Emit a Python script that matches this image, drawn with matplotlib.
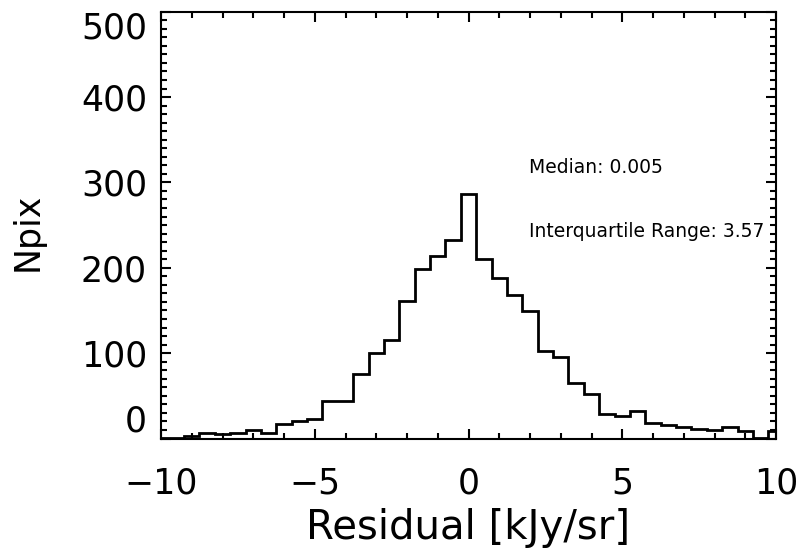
import numpy as np
import matplotlib
matplotlib.use('Agg')
import matplotlib.pyplot as plt
from matplotlib.ticker import MultipleLocator

# histogram of residuals, bin width 0.5 centred on multiples of 0.5
bin_centers = np.arange(-10.0, 10.5, 0.5)
counts = [1, 1, 3, 6, 5, 7, 10, 7, 17, 20,
          23, 44, 44, 76, 100, 115, 161, 199, 214, 233,
          287,
          210, 188, 168, 149, 103, 95, 65, 52, 29, 26,
          32, 18, 16, 14, 11, 10, 13, 9, 1, 9]

median_txt = 'Median: 0.005'
iqr_txt = 'Interquartile Range: 3.57'
xticks = [-10, -5, 0, 5, 10]
yticks = [0, 100, 200, 300, 400, 500]

plt.rcParams['font.family'] = ['DejaVu Sans']

edges = np.append(bin_centers - 0.25, bin_centers[-1] + 0.25)

fig = plt.figure(figsize=(8, 5.48), dpi=100)
ax = fig.add_axes([161/800, 1 - 438.5/548, 615/800, 426.8/548])

ax.stairs(counts, edges, color='black', lw=2, baseline=None)

ax.set_xlim(-10, 10)
ax.set_ylim(0, 500)
ax.set_xticks(xticks)
ax.set_yticks(yticks)
ax.xaxis.set_minor_locator(MultipleLocator(1))
ax.yaxis.set_minor_locator(MultipleLocator(10))

ax.tick_params(which='both', direction='in', top=True, right=True, width=1.5)
ax.tick_params(which='major', length=7, labelsize=25)
ax.tick_params(which='minor', length=4)
ax.tick_params(axis='x', which='major', pad=20)
ax.tick_params(axis='y', which='major', pad=10)
for s in ax.spines.values():
    s.set_linewidth(1.5)

# IDL keeps the end labels inside the axis range
ylabs = ax.get_yticklabels()
ylabs[0].set_va('bottom')
ylabs[-1].set_va('top')

ax.set_xlabel('Residual [kJy/sr]', fontsize=29)
ax.xaxis.set_label_coords(0.5, -0.163)
ax.set_ylabel('Npix', fontsize=25)
ax.yaxis.set_label_coords(-0.19, 0.484)

ax.text(1.96, 311.6, median_txt, fontsize=13.5, va='baseline', fontweight='medium')
ax.text(1.96, 236.5, iqr_txt, fontsize=13.5, va='baseline', fontweight='medium')

fig.savefig('out.png', dpi=100)
